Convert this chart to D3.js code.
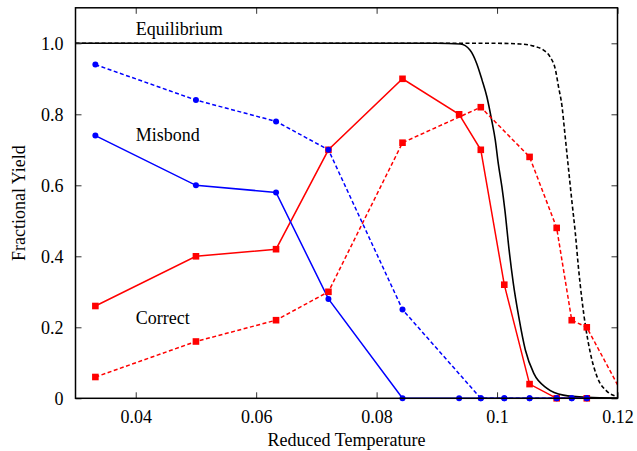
<!DOCTYPE html>
<html>
<head>
<meta charset="utf-8">
<script src="https://cdn.jsdelivr.net/npm/d3@7"></script>
<style>
  html, body { margin: 0; padding: 0; background: #fff; }
  svg { display: block; }
  text { font-family: "Liberation Serif", "Times New Roman", serif; }
</style>
</head>
<body>
<svg id="chart" width="637" height="451"></svg>
<script>
// ---------------- data ----------------
const xTicks = [0.04, 0.06, 0.08, 0.1, 0.12];
const xTickLabels = ["0.04", "0.06", "0.08", "0.1", "0.12"];
const yTicks = [0, 0.2, 0.4, 0.6, 0.8, 1.0];
const yTickLabels = ["0", "0.2", "0.4", "0.6", "0.8", "1.0"];

// Misbond (blue)
const misbondSolidT = [0.0333, 0.05, 0.0633, 0.072, 0.0843, 0.0937, 0.0973, 0.1012, 0.1054, 0.1099, 0.1124, 0.1149];
const misbondSolidY = [0.74, 0.60, 0.58, 0.28, 0, 0, 0, 0, 0, 0, 0, 0];
const misbondDashT  = [0.0333, 0.05, 0.0633, 0.072, 0.0843, 0.0973, 0.1012, 0.1054, 0.1099, 0.1124, 0.1149];
const misbondDashY  = [0.94, 0.84, 0.78, 0.70, 0.25, 0, 0, 0, 0, 0, 0];

// Correct (red)
const correctSolidT = [0.0333, 0.05, 0.0633, 0.072, 0.0843, 0.0937, 0.0973, 0.1012, 0.1054, 0.1099, 0.1149];
const correctSolidY = [0.26, 0.40, 0.42, 0.70, 0.90, 0.80, 0.70, 0.32, 0.04, 0, 0];
const correctDashT  = [0.0333, 0.05, 0.0633, 0.072, 0.0843, 0.0973, 0.1054, 0.1099, 0.1124, 0.1149, 0.1212];
const correctDashY  = [0.06, 0.16, 0.22, 0.30, 0.72, 0.82, 0.68, 0.48, 0.22, 0.20, 0];

// Equilibrium (black) curves
const eqSolidT = [0.03, 0.09, 0.0939, 0.0955, 0.0966, 0.0975, 0.0983, 0.0991, 0.0997, 0.1002, 0.1008, 0.1013, 0.1020, 0.1027, 0.1036, 0.1047, 0.1061, 0.1083, 0.1110, 0.1149, 0.12];
const eqSolidY = [1, 1, 0.998, 0.981, 0.944, 0.897, 0.85, 0.784, 0.728, 0.662, 0.596, 0.53, 0.418, 0.324, 0.23, 0.136, 0.07, 0.028, 0.009, 0.003, 0.001];
const eqDashT  = [0.03, 0.1, 0.1038, 0.1061, 0.1077, 0.1088, 0.1097, 0.1102, 0.1108, 0.1112, 0.1116, 0.1120, 0.1124, 0.1130, 0.1135, 0.1141, 0.1147, 0.1155, 0.1166, 0.1183, 0.1199];
const eqDashY  = [1, 1, 0.998, 0.992, 0.981, 0.962, 0.925, 0.878, 0.821, 0.756, 0.69, 0.624, 0.559, 0.465, 0.371, 0.277, 0.202, 0.127, 0.061, 0.019, 0.005];

// ---------------- layout ----------------
const svg = d3.select("#chart");
const L = 75.5, R = 617.5, T = 7.8, B = 398.3;
const x = d3.scaleLinear().domain([0.03, 0.12]).range([L, R]);
const y = d3.scaleLinear().domain([0, 1.1]).range([B, T]);

svg.append("defs").append("clipPath").attr("id", "plotclip")
  .append("rect").attr("x", L).attr("y", T).attr("width", R - L).attr("height", B - T);

const zip = (ts, ys) => ts.map((t, i) => [t, ys[i]]);
const lineSharp = d3.line().x(d => x(d[0])).y(d => y(d[1]));
const lineSmooth = d3.line().x(d => x(d[0])).y(d => y(d[1])).curve(d3.curveMonotoneX);

const plot = svg.append("g").attr("clip-path", "url(#plotclip)");
const dash = "4,2.5";

// equilibrium curves
plot.append("path").datum(zip(eqDashT, eqDashY)).attr("d", lineSmooth)
  .attr("fill", "none").attr("stroke", "#000").attr("stroke-width", 1.6).attr("stroke-dasharray", dash);
plot.append("path").datum(zip(eqSolidT, eqSolidY)).attr("d", lineSmooth)
  .attr("fill", "none").attr("stroke", "#000").attr("stroke-width", 1.6);

const red = "#ff0000", blue = "#0000ff";
function series(ts, ys, color, dashed, marker) {
  const data = zip(ts, ys);
  plot.append("path").datum(data).attr("d", lineSharp)
    .attr("fill", "none").attr("stroke", color).attr("stroke-width", 1.5)
    .attr("stroke-dasharray", dashed ? dash : null);
  const pts = data.filter(d => d[0] <= 0.12);
  if (marker === "square") {
    svg.append("g").selectAll("rect").data(pts).join("rect")
      .attr("x", d => x(d[0]) - 3.3).attr("y", d => y(d[1]) - 3.3)
      .attr("width", 6.6).attr("height", 6.6).attr("fill", color);
  } else {
    svg.append("g").selectAll("circle").data(pts).join("circle")
      .attr("cx", d => x(d[0])).attr("cy", d => y(d[1])).attr("r", 3)
      .attr("fill", color);
  }
}
series(correctDashT, correctDashY, red, true, "square");
series(correctSolidT, correctSolidY, red, false, "square");
series(misbondDashT, misbondDashY, blue, true, "circle");
series(misbondSolidT, misbondSolidY, blue, false, "circle");

// ---------------- axes ----------------
const fs = 18;
function styleAxis(g) {
  g.select(".domain").remove();
  g.selectAll(".tick line").attr("stroke", "#333").attr("stroke-width", 1);
  g.selectAll("text").attr("font-size", fs).attr("fill", "#000")
    .attr("font-family", "Liberation Serif, serif");
}
svg.append("g").attr("transform", `translate(0,${B})`)
  .call(d3.axisBottom(x).tickValues(xTicks).tickSize(-6).tickPadding(12)
    .tickFormat((d, i) => xTickLabels[i]))
  .call(styleAxis);
svg.append("g").attr("transform", `translate(0,${T})`)
  .call(d3.axisTop(x).tickValues(xTicks).tickSize(-6).tickFormat(""))
  .call(styleAxis);
svg.append("g").attr("transform", `translate(${L},0)`)
  .call(d3.axisLeft(y).tickValues(yTicks).tickSize(-6).tickPadding(12)
    .tickFormat((d, i) => yTickLabels[i]))
  .call(styleAxis);
svg.append("g").attr("transform", `translate(${R},0)`)
  .call(d3.axisRight(y).tickValues(yTicks).tickSize(-6).tickFormat(""))
  .call(styleAxis);

// frame
svg.append("rect").attr("x", L).attr("y", T).attr("width", R - L).attr("height", B - T)
  .attr("fill", "none").attr("stroke", "#000").attr("stroke-width", 1.5);

// axis titles
svg.append("text").attr("x", (L + R) / 2).attr("y", 446).attr("text-anchor", "middle")
  .attr("font-size", fs).text("Reduced Temperature");
svg.append("text").attr("transform", `translate(25,${(T + B) / 2}) rotate(-90)`)
  .attr("text-anchor", "middle").attr("font-size", fs).text("Fractional Yield");

// in-plot labels
const labels = [["Equilibrium", 35], ["Misbond", 141], ["Correct", 324]];
svg.append("g").selectAll("text").data(labels).join("text")
  .attr("x", x(0.04)).attr("y", d => d[1]).attr("font-size", fs).text(d => d[0]);
</script>
</body>
</html>
